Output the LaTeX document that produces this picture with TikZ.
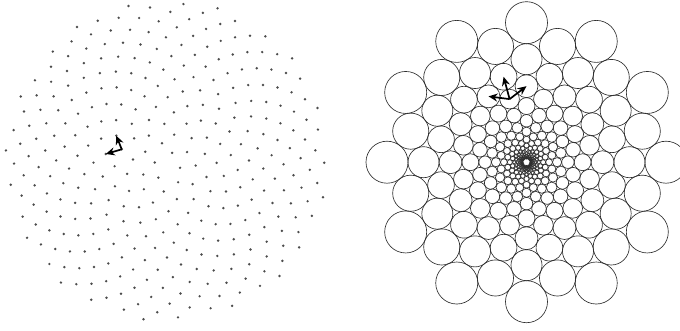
\documentclass[tikz,border=0pt]{standalone}
\usepackage{xfp}
\usetikzlibrary{arrows.meta}
\tikzset{
  sundot/.style={fill=black!70},
  ring/.style={draw=black!82, line width=0.65pt},
  vec/.style={-{Stealth[length=9pt,width=8pt]}, line width=1.7pt, black},
}
\newcommand\sunpt[2]{%
  \edef\tmpx{\fpeval{167+8.79*sqrt(#1)*cosd(#1*137.50776-83.5)}}%
  \edef\tmpy{\fpeval{160-8.79*sqrt(#1)*sind(#1*137.50776-83.5)}}%
  \coordinate (#2) at (\tmpx,\tmpy);}
\newcommand\ringpt[3]{%
  \edef\tmpx{\fpeval{526.5+139.5*0.8592^(#1)*cosd(#2)}}%
  \edef\tmpy{\fpeval{162.2-139.5*0.8592^(#1)*sind(#2)}}%
  \coordinate (#3) at (\tmpx,\tmpy);}
\begin{document}
\begin{tikzpicture}[x=1pt,y=-1pt]
\useasboundingbox (0,0) rectangle (680,330);
% left: sunflower points
\foreach \n in {1,...,340}{
  \edef\px{\fpeval{167+8.79*sqrt(\n)*cosd(\n*137.50776-83.5)}}
  \edef\py{\fpeval{160-8.79*sqrt(\n)*sind(\n*137.50776-83.5)}}
  \fill[sundot] (\px,\py) circle[radius=1.35pt];
}
% right: ring packing
\foreach \k in {0,...,24}{
  \pgfmathtruncatemacro\off{15*mod(\k,2)}
  \foreach \j in {0,...,11}{
    \edef\rh{\fpeval{139.5*0.8592^\k}}
    \edef\ang{\fpeval{90+30*\j+\off}}
    \edef\cx{\fpeval{526.5+\rh*cosd(\ang)}}
    \edef\cy{\fpeval{162.2-\rh*sind(\ang)}}
    \edef\rr{\fpeval{0.1506*\rh}}
    \draw[ring] (\cx,\cy) circle[radius=\rr pt];
  }
}
% arrows
\sunpt{28}{s0}\sunpt{41}{s1}\sunpt{49}{s2}
\draw[vec] (s0) -- (s1);
\draw[vec] (s0) -- (s2);
\ringpt{5}{105}{r0}\ringpt{4}{120}{r1}\ringpt{3}{105}{r2}\ringpt{4}{90}{r3}
\draw[vec] (r0) -- (r1);
\draw[vec] (r0) -- (r2);
\draw[vec] (r0) -- (r3);
\end{tikzpicture}
\end{document}
